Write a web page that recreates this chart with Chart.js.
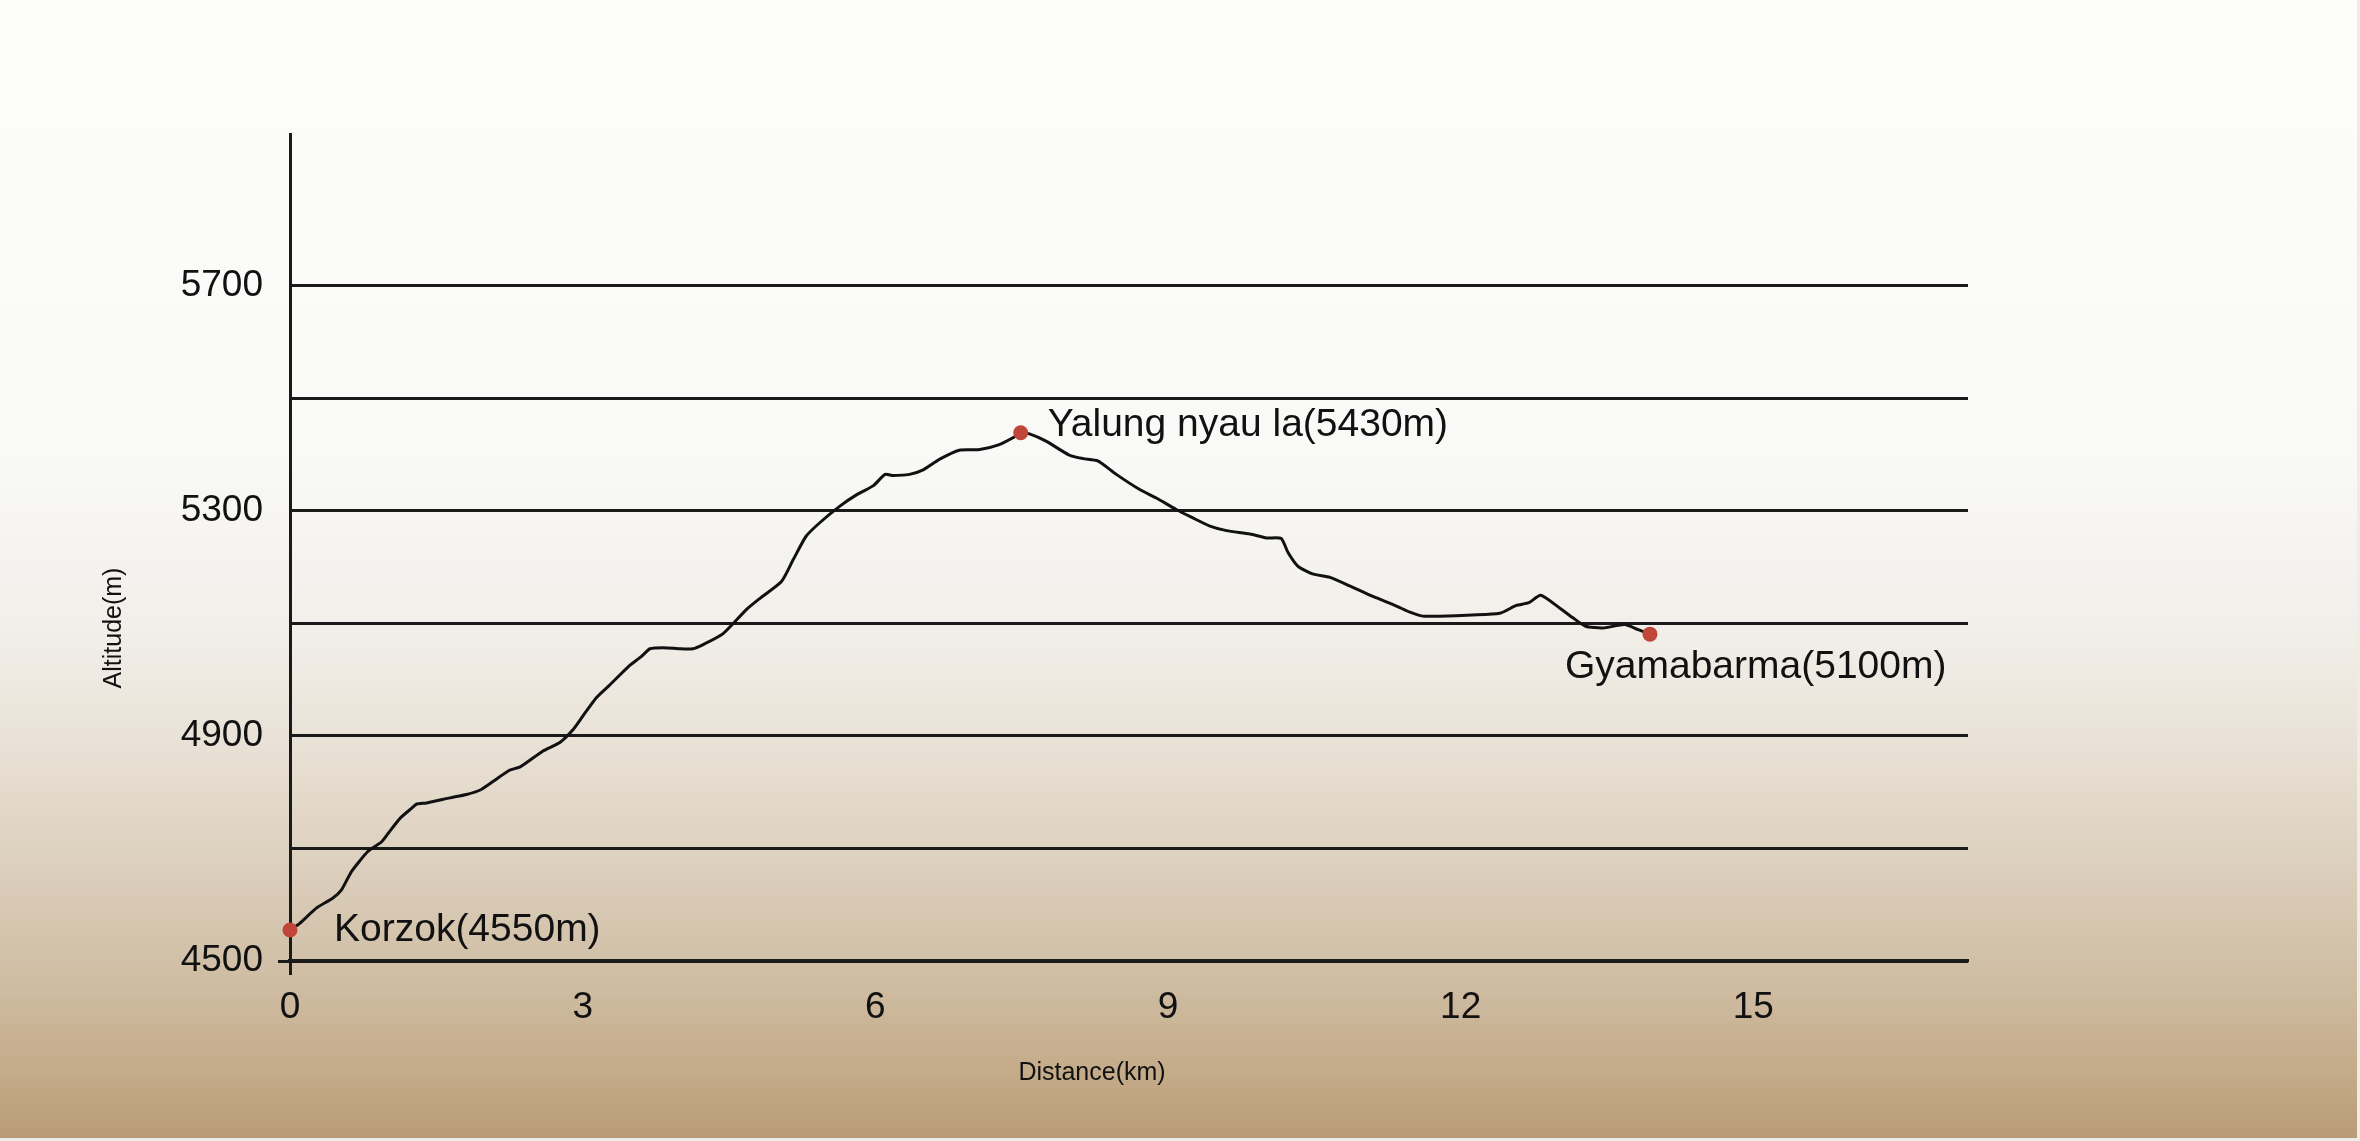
<!DOCTYPE html>
<html>
<head>
<meta charset="utf-8">
<title>Altitude profile</title>
<script src="https://cdn.jsdelivr.net/npm/chart.js@4.4.1/dist/chart.umd.min.js"></script>
<style>
  html, body { margin: 0; padding: 0; background: #fdfdfc; }
  canvas { display: block; }
</style>
</head>
<body>
<canvas id="profileChart" width="2360" height="1141"></canvas>
<script>
// Trail profile
const distances = [
  0.00, 0.10, 0.27, 0.44, 0.53, 0.63, 0.80, 0.94, 1.02, 1.13, 1.25, 1.30, 1.40,
  1.64, 1.81, 1.95, 2.08, 2.25, 2.36, 2.59, 2.77, 2.90, 3.00, 3.14, 3.28, 3.48,
  3.60, 3.69, 3.83, 4.00, 4.13, 4.23, 4.44, 4.68, 4.82, 5.04, 5.16, 5.29, 5.43,
  5.64, 5.81, 5.98, 6.10, 6.18, 6.35, 6.49, 6.66, 6.86, 7.07, 7.27, 7.41, 7.49,
  7.58, 7.75, 7.99, 8.13, 8.28, 8.47, 8.71, 8.88, 9.08, 9.25, 9.43, 9.60, 9.84,
  10.01, 10.16, 10.23, 10.33, 10.48, 10.66, 10.86, 11.10, 11.34, 11.48, 11.61,
  11.78, 12.12, 12.40, 12.57, 12.70, 12.82, 13.01, 13.15, 13.28, 13.46, 13.68,
  13.82, 13.94
];
const altitudes = [
  4555, 4567, 4594, 4612, 4627, 4659, 4695, 4712, 4730, 4754, 4772, 4779, 4781,
  4790, 4796, 4804, 4819, 4839, 4845, 4873, 4889, 4911, 4935, 4968, 4991, 5025,
  5041, 5055, 5057, 5055, 5055, 5062, 5082, 5125, 5145, 5175, 5214, 5255, 5279,
  5309, 5329, 5345, 5365, 5363, 5365, 5373, 5392, 5408, 5409, 5418, 5430, 5439,
  5437, 5424, 5399, 5393, 5389, 5365, 5338, 5323, 5303, 5288, 5273, 5265, 5259,
  5252, 5251, 5226, 5202, 5188, 5182, 5167, 5148, 5131, 5120, 5113,
  5113, 5115, 5118, 5132, 5137, 5150, 5128, 5110, 5095, 5092, 5098,
  5089, 5081
];

const stopNames = ['Korzok(4550m)', 'Yalung nyau la(5430m)', 'Gyamabarma(5100m)'];
const stopDistances = [0, 7.49, 13.94];
const stopAltitudes = [4555, 5439, 5081];

const xTicks = [0, 3, 6, 9, 12, 15];
const yTicks = [4500, 4700, 4900, 5100, 5300, 5500, 5700];
const yLabelled = [4500, 4900, 5300, 5700];

const ink = '#1a1a1a';
const dotRed = '#c1463a';
const fontFamily = "'Liberation Sans', Arial, Helvetica, sans-serif";

// paper background, white at the top fading into tan
const paperPlugin = {
  id: 'paper',
  beforeDraw(chart) {
    const { ctx, width, height } = chart;
    const g = ctx.createLinearGradient(0, 0, 0, height);
    g.addColorStop(0.00, '#fdfdfc');
    g.addColorStop(0.40, '#f9f9f7');
    g.addColorStop(0.55, '#f2efea');
    g.addColorStop(0.66, '#e8e0d4');
    g.addColorStop(0.76, '#dccfbd');
    g.addColorStop(0.86, '#cfbda3');
    g.addColorStop(0.94, '#c4ab89');
    g.addColorStop(1.00, '#b99b76');
    ctx.save();
    ctx.fillStyle = g;
    ctx.fillRect(0, 0, width, height);
    ctx.fillStyle = '#efece7';
    ctx.fillRect(width - 3, 0, 3, height);
    ctx.fillRect(0, height - 3, width, 3);
    ctx.restore();
  }
};

// place names next to the red dots, plus the two axis titles
const labelOffsets = [[44, 11], [27, 3], [-85, 44]];
const annotatePlugin = {
  id: 'annotate',
  afterDatasetsDraw(chart) {
    const { ctx, chartArea } = chart;
    const xs = chart.scales.x, ys = chart.scales.y;
    ctx.save();
    ctx.fillStyle = '#111';
    ctx.textBaseline = 'alphabetic';
    ctx.textAlign = 'left';
    ctx.font = '39px ' + fontFamily;
    stopNames.forEach((name, i) => {
      const px = xs.getPixelForValue(stopDistances[i]);
      const py = ys.getPixelForValue(stopAltitudes[i]);
      ctx.fillText(name, px + labelOffsets[i][0], py + labelOffsets[i][1]);
    });

    ctx.font = '25px ' + fontFamily;
    ctx.textAlign = 'center';
    ctx.textBaseline = 'middle';
    ctx.fillText('Distance(km)', chartArea.left + 802, chartArea.bottom + 112);
    ctx.translate(chartArea.left - 176, chartArea.top + 494);
    ctx.rotate(-Math.PI / 2);
    ctx.fillText('Altitude(m)', 0, 0);
    ctx.restore();
  }
};

Chart.defaults.font.family = fontFamily;
Chart.defaults.color = '#111';

const ctx = document.getElementById('profileChart').getContext('2d');
const profileChart = new Chart(ctx, {
  type: 'line',
  data: {
    datasets: [
      {
        label: 'stops',
        data: stopDistances.map((d, i) => ({ x: d, y: stopAltitudes[i] })),
        showLine: false,
        pointRadius: 7.5,
        pointBackgroundColor: dotRed,
        pointBorderWidth: 0,
        clip: false,
        order: 0
      },
      {
        label: 'profile',
        data: distances.map((d, i) => ({ x: d, y: altitudes[i] })),
        borderColor: '#111',
        borderWidth: 3,
        pointRadius: 0,
        tension: 0.2,
        fill: false,
        order: 1
      }
    ]
  },
  options: {
    responsive: false,
    devicePixelRatio: 1,
    animation: false,
    layout: { padding: { top: 134, right: 392, left: 0, bottom: 0 } },
    plugins: {
      legend: { display: false },
      tooltip: { enabled: false }
    },
    scales: {
      x: {
        type: 'linear',
        min: 0,
        max: 17.2,
        afterBuildTicks: s => { s.ticks = xTicks.map(v => ({ value: v })); },
        afterFit: s => { s.height = 180; },
        grid: {
          display: true,
          drawOnChartArea: false,
          drawTicks: true,
          tickLength: 14,
          tickWidth: 3,
          tickColor: c => (c.tick && c.tick.value === 0 ? ink : 'rgba(0,0,0,0)')
        },
        border: { display: true, color: ink, width: 3.2 },
        ticks: {
          padding: 11,
          maxRotation: 0,
          autoSkip: false,
          color: '#111',
          font: { size: 37 }
        }
      },
      y: {
        type: 'linear',
        min: 4500,
        max: 5970,
        afterBuildTicks: s => { s.ticks = yTicks.map(v => ({ value: v })); },
        afterFit: s => { s.width = 290; },
        grid: {
          color: ink,
          lineWidth: 3,
          drawTicks: true,
          tickLength: 12,
          tickColor: c => (c.tick && c.tick.value === 4500 ? ink : 'rgba(0,0,0,0)')
        },
        border: { display: true, color: ink, width: 3 },
        ticks: {
          padding: 15,
          autoSkip: false,
          color: '#111',
          font: { size: 37 },
          callback: v => (yLabelled.includes(v) ? String(v) : '')
        }
      }
    }
  },
  plugins: [paperPlugin, annotatePlugin]
});
</script>
</body>
</html>
